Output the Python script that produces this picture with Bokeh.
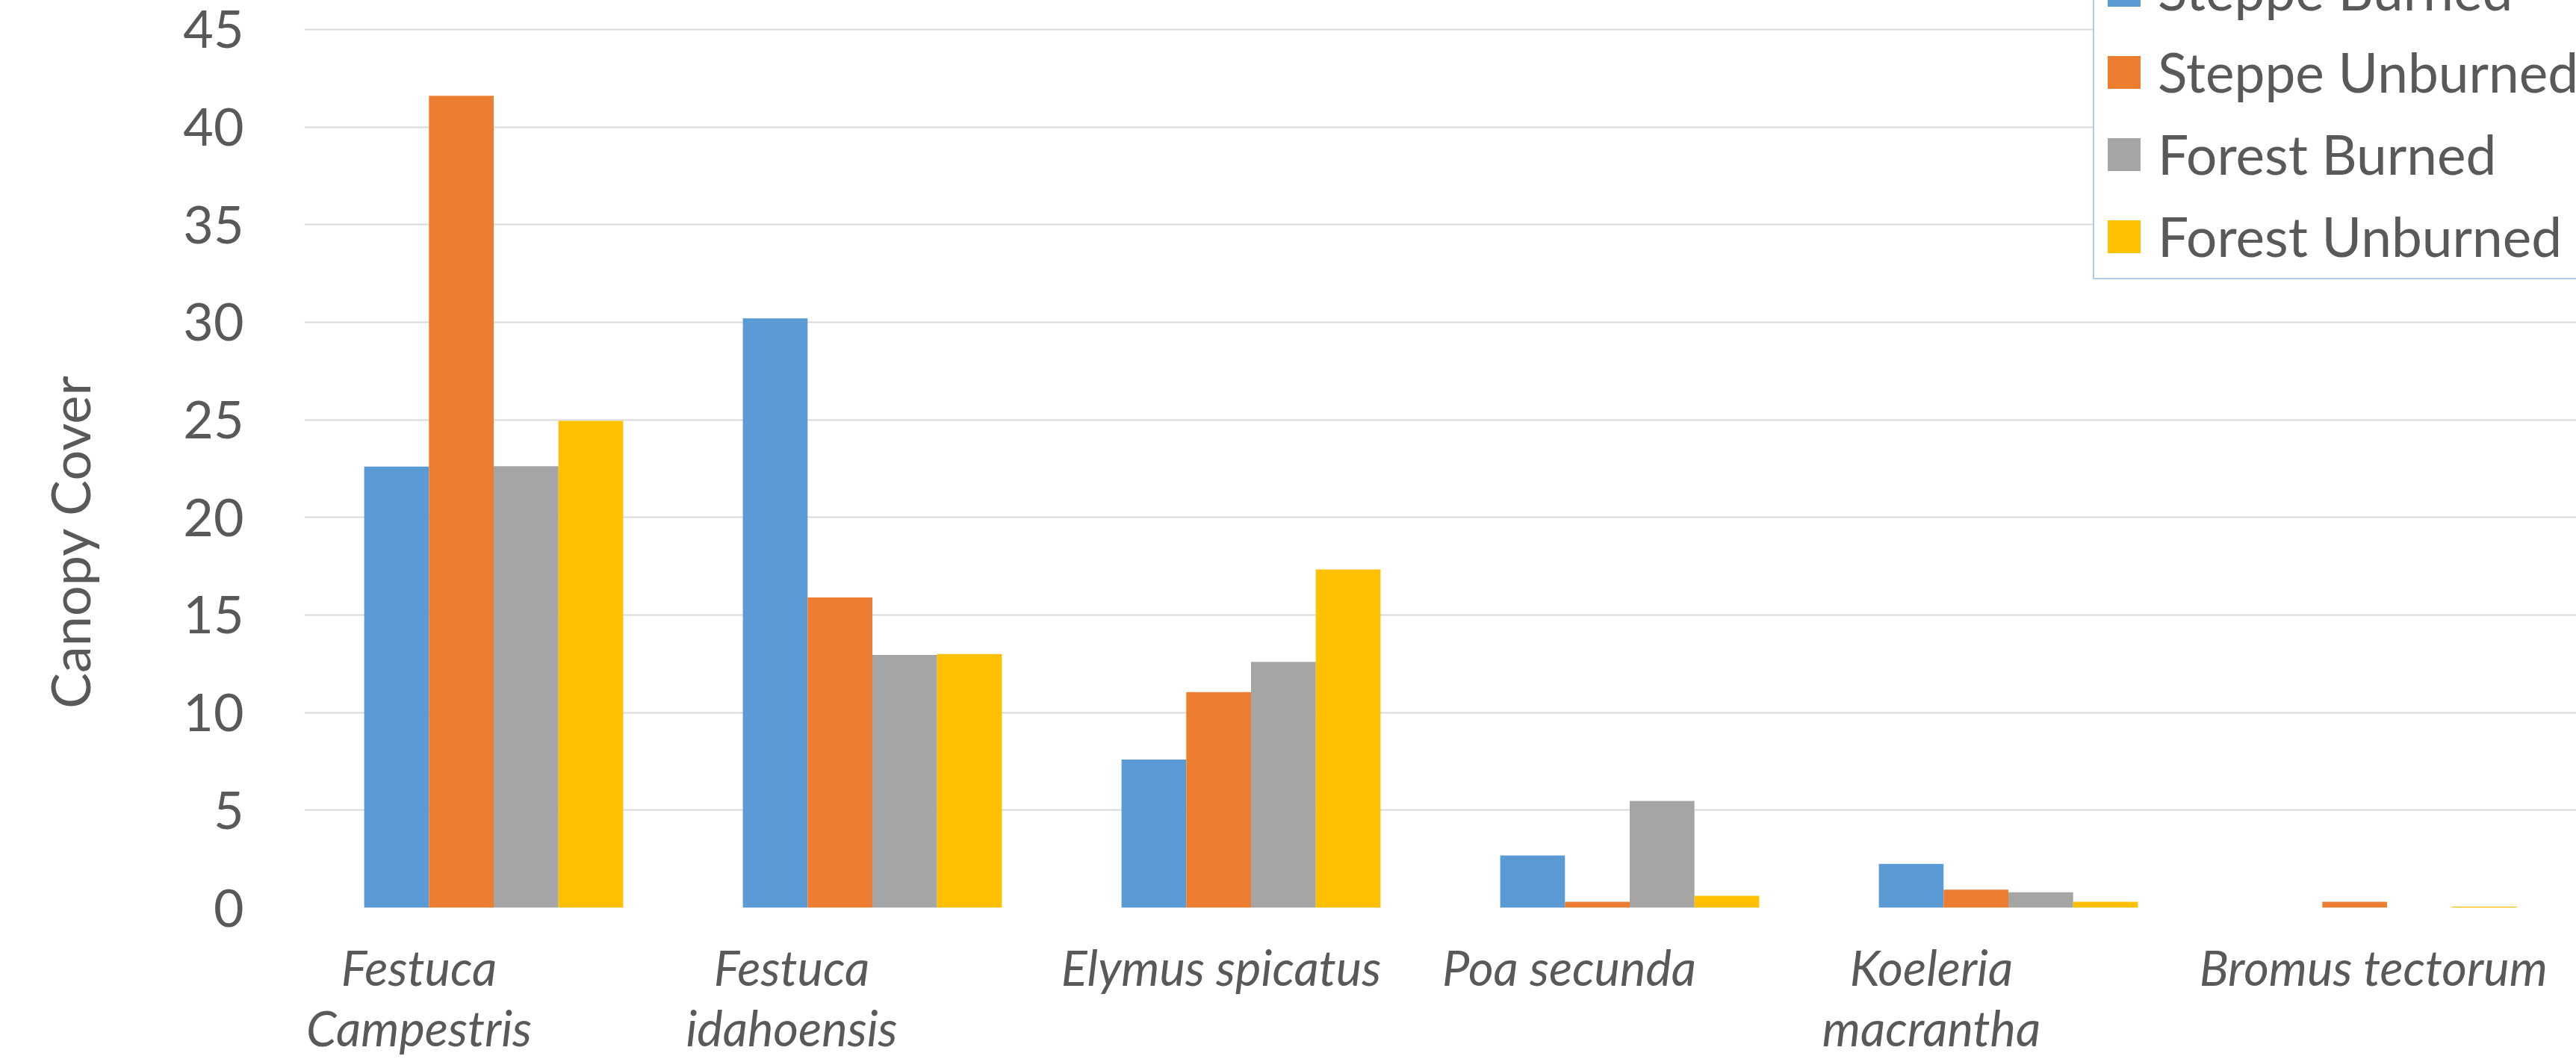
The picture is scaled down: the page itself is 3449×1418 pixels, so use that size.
import math
from bokeh.plotting import figure
from bokeh.models import (Range1d, Legend, LegendItem, Label,
                          ColumnDataSource, FixedTicker)
from bokeh.transform import dodge
from bokeh.embed import file_html
from bokeh.resources import INLINE

# ---------------- data ----------------
categories = ["Festuca Campestris", "Festuca idahoensis", "Elymus spicatus",
              "Poa secunda", "Koeleria macrantha", "Bromus tectorum"]
category_labels = ["Festuca\nCampestris", "Festuca\nidahoensis", "Elymus spicatus",
                   "Poa secunda", "Koeleria\nmacrantha", "Bromus tectorum"]
series_names = ["Steppe Burned", "Steppe Unburned", "Forest Burned", "Forest Unburned"]
steppe_burned = [22.6, 30.2, 7.6, 2.68, 2.25, 0.0]
steppe_unburned = [41.6, 15.9, 11.05, 0.31, 0.93, 0.31]
forest_burned = [22.62, 12.95, 12.6, 5.47, 0.79, 0.0]
forest_unburned = [24.95, 13.0, 17.33, 0.61, 0.31, 0.06]
y_ticks = [0, 5, 10, 15, 20, 25, 30, 35, 40, 45]
y_axis_title = "Canopy Cover"

# ---------------- styling ----------------
colors = ["#5B9BD5", "#ED7D31", "#A5A5A5", "#FFC000"]
text_color = "#595959"
grid_color = "#D9D9D9"
FONT = "Lato"
W, H = 3449, 1418

n_cat = len(categories)
# each category occupies one unit of the x scale; its centre is at index + 0.5
cat_center = [i + 0.5 for i in range(n_cat)]
src = ColumnDataSource(dict(cat=categories, xc=cat_center, sb=steppe_burned,
                            su=steppe_unburned, fb=forest_burned, fu=forest_unburned))

p = figure(x_range=Range1d(0, n_cat), y_range=Range1d(0, 46.49),
           width=W, height=H, output_backend="svg", toolbar_location=None,
           min_border_left=407, min_border_right=0, min_border_top=0,
           min_border_bottom=201)
p.outline_line_color = None
p.background_fill_color = "white"
p.border_fill_color = "white"

bar_w = 0.171
offsets = [-1.5 * bar_w, -0.5 * bar_w, 0.5 * bar_w, 1.5 * bar_w]
keys = ["sb", "su", "fb", "fu"]
renderers = []
for k, off, c in zip(keys, offsets, colors):
    r = p.vbar(x=dodge("xc", off), top=k, width=bar_w,
               source=src, fill_color=c, line_color=None)
    renderers.append(r)

p.xgrid.grid_line_color = None
p.ygrid.grid_line_color = grid_color
p.ygrid.grid_line_width = 2
p.yaxis.ticker = FixedTicker(ticks=y_ticks)
p.yaxis.axis_line_color = None
p.yaxis.major_tick_line_color = None
p.yaxis.minor_tick_line_color = None
p.yaxis.major_label_standoff = 75
p.yaxis.major_label_text_font = FONT
p.yaxis.major_label_text_font_size = "70px"
p.yaxis.major_label_text_color = text_color

# category labels (they sit slightly left of the group centres, as in the source)
label_shift_px = [-100, -108, -40, -81, -103, -18]
cat_px = 507.0
label_pos = [round(c + s / cat_px, 4) for c, s in zip(cat_center, label_shift_px)]
xa = p.xaxis[0]
xa.ticker = FixedTicker(ticks=label_pos)
xa.major_label_overrides = {pos: t for pos, t in zip(label_pos, category_labels)}
xa.axis_line_color = None
xa.major_tick_line_color = None
xa.minor_tick_line_color = None
xa.major_label_standoff = 34
xa.major_label_text_font = FONT
xa.major_label_text_font_style = "italic"
xa.major_label_text_font_size = "65px"
xa.major_label_text_line_height = 1.05
xa.major_label_text_color = text_color

# y axis title, placed in the left margin (below the frame centre, as in the source)
y_px = 26.18  # pixels per y unit (frame height / y span)
p.add_layout(Label(x=(92 - 407) / cat_px, y=491 / y_px, text=y_axis_title,
                   angle=math.pi / 2, text_align="center", text_baseline="alphabetic",
                   text_font=FONT, text_font_size="72px",
                   text_color=text_color), "left")

legend = Legend(items=[LegendItem(label=n, renderers=[r]) for n, r in zip(series_names, renderers)],
                location=(2395, 841), orientation="vertical",
                glyph_width=55, glyph_height=55, label_standoff=18,
                spacing=22, padding=12, margin=0,
                border_line_color="#5B9BD5", border_line_width=2,
                background_fill_color="white", background_fill_alpha=1.0,
                label_text_font=FONT, label_text_font_size="73px",
                label_text_color=text_color)
p.add_layout(legend)

open("out.html", "w").write(file_html(p, INLINE))
